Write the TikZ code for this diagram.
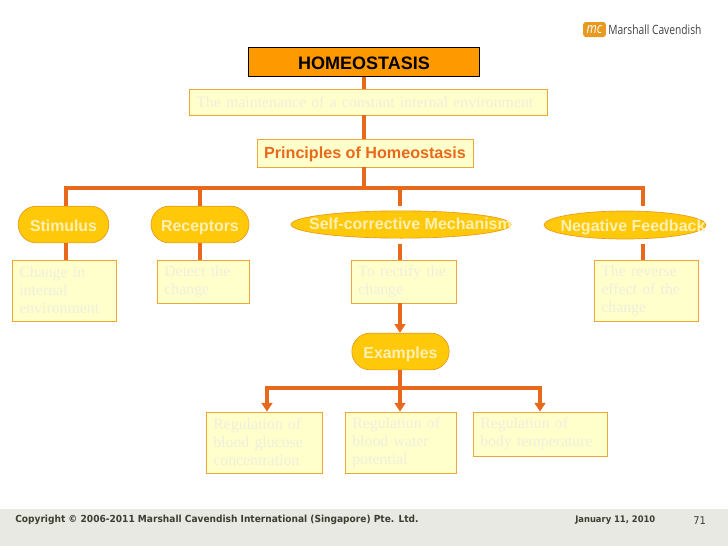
\documentclass[tikz,border=0pt]{standalone}
\usepackage{fontspec}
\setmainfont{Liberation Sans}
\newfontfamily\paperfont{Liberation Serif}
\newfontfamily\footfont{DejaVu Sans}[FakeStretch=0.93]
\newfontfamily\logofont{Open Sans}[FakeStretch=0.8]
\usetikzlibrary{arrows.meta,shapes.geometric}

\definecolor{linkorange}{HTML}{E8691C}
\definecolor{pillfill}{HTML}{FFC808}
\definecolor{pilledge}{HTML}{E89A20}
\definecolor{topfill}{HTML}{FF9900}
\definecolor{palefill}{HTML}{FFFFCC}
\definecolor{paleedge}{HTML}{EDA53C}
\definecolor{paletext}{HTML}{EFEFDC}
\definecolor{pilltext}{HTML}{FFF0B4}
\definecolor{footfill}{HTML}{E8E9E3}
\definecolor{foottext}{HTML}{3C3E32}

\tikzset{
  link/.style={color=linkorange,line width=2.3pt},
  linkarrow/.style={link,-{Triangle[length=6.5pt,width=8pt]}},
  palebox/.style 2 args={draw=paleedge,fill=palefill,line width=0.6pt,minimum height=#2*0.75pt,
    text width=#1*0.75pt-11pt,inner xsep=5.5pt,inner ysep=2pt,align=left,text=paletext,
    font=\paperfont\fontsize{11.85}{13.5}\selectfont},
  pill/.style={draw=pilledge,fill=pillfill,line width=0.5pt,inner sep=0pt,rounded corners=13.7pt,
    minimum height=27.5pt,text=pilltext,text height=10pt,text depth=0pt,
    font=\bfseries\fontsize{11.9}{13}\selectfont},
  oval/.style={ellipse,draw=pilledge,fill=pillfill,line width=0.5pt,inner sep=0pt},
  ovaltext/.style={text=pilltext,inner sep=0pt,text height=10pt,text depth=0pt,
    font=\bfseries\fontsize{12}{13}\selectfont},
  foot/.style={text=foottext,inner sep=0pt,anchor=west},
}

\begin{document}
\begin{tikzpicture}[x=0.75pt,y=-0.75pt]
  \useasboundingbox (0,0) rectangle (728,546);

  % footer band
  \fill[footfill] (0,509) rectangle (728,546);
  \node[foot,font=\footfont\bfseries\fontsize{7.3}{8}\selectfont] (copyright) at (15,520) {Copyright © 2006-2011 Marshall Cavendish International (Singapore) Pte. Ltd.};
  \node[foot,font=\footfont\bfseries\fontsize{6.76}{8}\selectfont] (date) at (575,520) {January 11, 2010};
  \node[foot,font=\footfont\fontsize{8}{8}\selectfont] (pagenum) at (693,520.5) {71};

  % logo
  \node[fill=pilledge,rounded corners=2pt,minimum width=17pt,minimum height=11.25pt,inner sep=0pt,
    text=white,font=\logofont\itshape\fontsize{11}{11}\selectfont] (logomark) at (594.5,29.5) {mc};
  \node[foot,text=black!75,font=\logofont\fontsize{9.6}{10}\selectfont] (logoname) at (608,30) {Marshall Cavendish};

  % top of the tree
  \node[draw=black,fill=topfill,line width=0.7pt,minimum width=173pt,minimum height=22pt,inner sep=0pt,
    text height=10.5pt,text depth=0pt,font=\bfseries\fontsize{13.5}{14}\selectfont] (homeostasis) at (364,62) {HOMEOSTASIS};
  \node[palebox={358}{26}] (maintenance) at (368,102) {The maintenance of a constant internal environment};
  \node[draw=paleedge,fill=palefill,line width=0.6pt,minimum width=162pt,minimum height=21pt,inner sep=0pt,
    text height=8.7pt,text depth=0pt,text=linkorange,font=\bfseries\fontsize{12.1}{13}\selectfont] (principles) at (365,153) {Principles of Homeostasis};

  % four principles
  \node[pill,minimum width=68pt] (stimulus) at (63.5,224.5) {Stimulus};
  \node[pill,minimum width=73.5pt] (receptors) at (200,224.5) {Receptors};
  \node[oval,minimum width=165pt,minimum height=20.5pt] (selfmech) at (401,224.5) {};
  \node[ovaltext] (selfmechtext) at (410.5,223) {Self-corrective Mechanism};
  \node[oval,minimum width=121.5pt,minimum height=21pt] (negfeed) at (625,225) {};
  \node[ovaltext] (negfeedtext) at (633,224.5) {Negative Feedback};

  \node[palebox={104}{61}] (change) at (64,290.5) {Change in\\internal\\environment};
  \node[palebox={92}{43}] (detect) at (203,281.5) {Detect the\\change};
  \node[palebox={105}{43}] (rectify) at (403.5,281.5) {To rectify the\\change};
  \node[palebox={104}{61}] (reverse) at (646,290.5) {The reverse\\effect of the\\change};

  % examples
  \node[pill,minimum width=73pt] (examples) at (400.5,351.5) {Examples};
  \node[palebox={116}{61}] (glucose) at (264,442.5) {Regulation of\\blood glucose\\concentration};
  \node[palebox={111}{61}] (water) at (400.5,442.5) {Regulation of\\blood water\\potential};
  \node[palebox={134}{44}] (temperature) at (540,434) {Regulation of\\body temperature};

  % bus lines
  \coordinate (spine) at (364,188);
  \coordinate (busS) at (66,188);
  \coordinate (busR) at (200,188);
  \coordinate (busM) at (400,188);
  \coordinate (busN) at (643,188);
  \coordinate (lowbus) at (400,388);
  \coordinate (lowL) at (267,388);
  \coordinate (lowR) at (540,388);

  \draw[link] (homeostasis.south -| spine) -- (maintenance.north -| spine);
  \draw[link] (maintenance.south -| spine) -- (principles.north -| spine);
  \draw[link] (principles.south -| spine) -- (spine);
  \draw[link,line cap=rect] (busS) -- (busN);

  \draw[link] (busS) -- (stimulus.north -| busS);
  \draw[link] (busR) -- (receptors.north -| busR);
  \draw[link] (busM) -- ([yshift=3.75pt]selfmech.north -| busM);
  \draw[link] (busN) -- ([yshift=3.75pt]negfeed.north -| busN);

  \draw[link] (stimulus.south -| busS) -- (change.north -| busS);
  \draw[link] (receptors.south -| busR) -- (detect.north -| busR);
  \draw[link] ([yshift=-3.75pt]selfmech.south -| busM) -- (rectify.north -| busM);
  \draw[link] ([yshift=-3.3pt]negfeed.south -| busN) -- (reverse.north -| busN);

  \draw[linkarrow] (rectify.south -| busM) -- (examples.north -| busM);
  \draw[link] (examples.south -| lowbus) -- (lowbus);
  \draw[link,line cap=rect] (lowL) -- (lowR);
  \draw[linkarrow] (lowL) -- (glucose.north -| lowL);
  \draw[linkarrow] (lowbus) -- (water.north -| lowbus);
  \draw[linkarrow] (lowR) -- (temperature.north -| lowR);
\end{tikzpicture}
\end{document}
